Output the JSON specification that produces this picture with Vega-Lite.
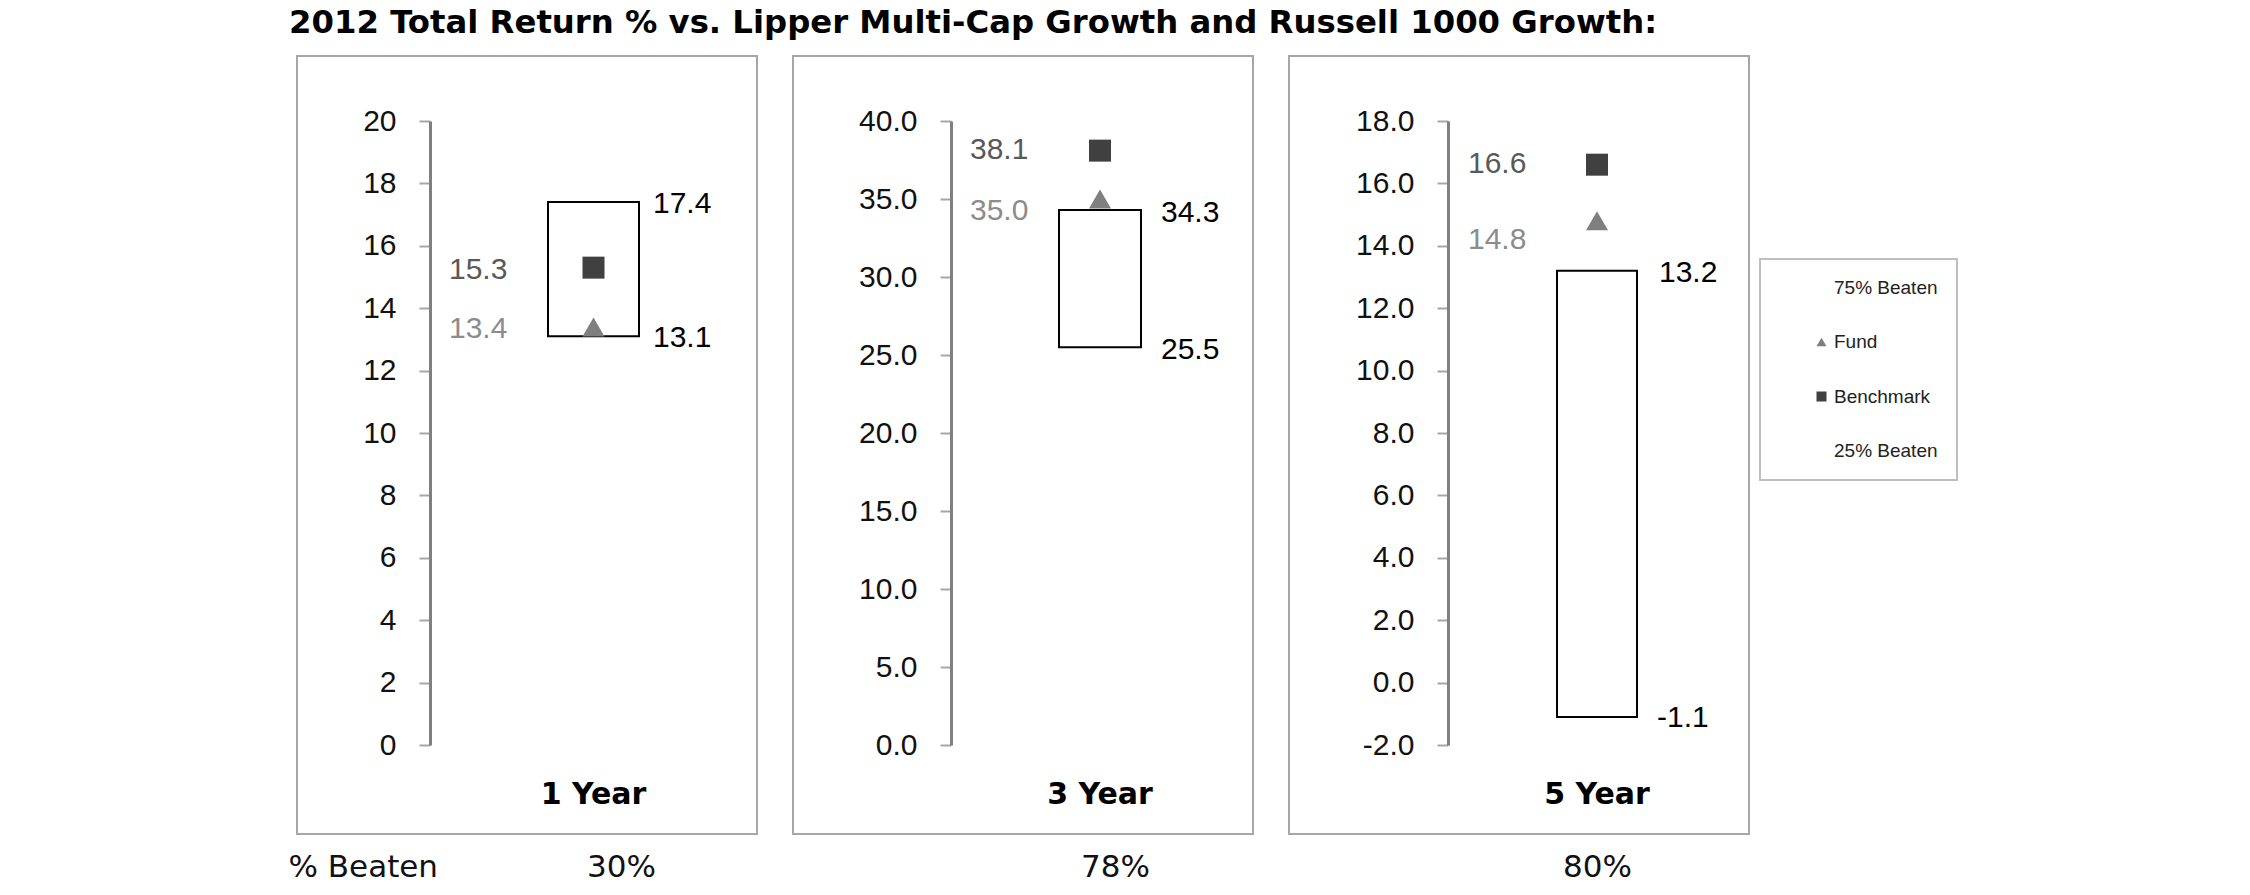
{
  "$schema": "https://vega.github.io/schema/vega-lite/v6.json",
  "background": "white",
  "padding": {"left": 287, "top": 6, "right": 10, "bottom": 5},
  "title": {
    "text": "2012 Total Return % vs. Lipper Multi-Cap Growth and Russell 1000 Growth:",
    "anchor": "start",
    "font": "DejaVu Sans",
    "fontSize": 32.3,
    "fontWeight": "bold",
    "color": "#000000",
    "offset": 16,
    "dx": 2
  },
  "data": {
    "values": [
      {"period": "1 Year", "p25": 13.1, "p75": 17.4, "fund": 13.4, "benchmark": 15.3, "beaten": "30%"},
      {"period": "3 Year", "p25": 25.5, "p75": 34.3, "fund": 35.0, "benchmark": 38.1, "beaten": "78%"},
      {"period": "5 Year", "p25": -1.1, "p75": 13.2, "fund": 14.8, "benchmark": 16.6, "beaten": "80%"}
    ]
  },
  "spacing": 34,
  "hconcat": [
    {
      "width": 460,
      "height": 778,
      "transform": [{"filter": "datum.period === '1 Year'"}],
      "encoding": {
        "x": {"field": "period", "type": "nominal", "scale": {"range": [251, 342], "padding": 0}, "axis": {"title": "30%", "titleX": 324}}
      },
      "layer": [
        {
          "mark": {"type": "bar", "fill": "white", "stroke": "black", "strokeWidth": 2},
          "encoding": {
            "y": {"field": "p75", "type": "quantitative", "title": "% Beaten",
                  "scale": {"domain": [0, 20], "range": [689, 65], "nice": false, "zero": false},
                  "axis": {"offset": -133, "tickCount": 10, "format": "d", "titleX": -142, "titleY": 820}},
            "y2": {"field": "p25"}
          }
        },
        {
          "mark": {"type": "point", "filled": true, "opacity": 1, "size": 484},
          "encoding": {
            "y": {"field": "benchmark", "type": "quantitative", "title": "% Beaten"},
            "shape": {"datum": "Benchmark", "type": "nominal", "scale": {"domain": ["75% Beaten", "Fund", "Benchmark", "25% Beaten"], "range": ["square", "triangle-up", "square", "square"]}},
            "color": {"datum": "Benchmark", "type": "nominal", "scale": {"domain": ["75% Beaten", "Fund", "Benchmark", "25% Beaten"], "range": ["transparent", "#7f7f7f", "#404040", "transparent"]}}
          }
        },
        {
          "mark": {"type": "point", "filled": true, "opacity": 1, "size": 484},
          "encoding": {
            "y": {"field": "fund", "type": "quantitative", "title": "% Beaten"},
            "shape": {"datum": "Fund", "type": "nominal", "scale": {"domain": ["75% Beaten", "Fund", "Benchmark", "25% Beaten"], "range": ["square", "triangle-up", "square", "square"]}},
            "color": {"datum": "Fund", "type": "nominal", "scale": {"domain": ["75% Beaten", "Fund", "Benchmark", "25% Beaten"], "range": ["transparent", "#7f7f7f", "#404040", "transparent"]}}
          }
        },
        {
          "mark": {"type": "text", "dx": 14, "dy": 2, "color": "#000000"},
          "encoding": {
            "x": {"field": "period", "type": "nominal", "bandPosition": 1, "title": "30%"},
            "y": {"field": "p75", "type": "quantitative", "title": "% Beaten"},
            "text": {"field": "p75", "type": "quantitative", "format": ".1f"}
          }
        },
        {
          "mark": {"type": "text", "dx": 14, "dy": 2, "color": "#000000"},
          "encoding": {
            "x": {"field": "period", "type": "nominal", "bandPosition": 1, "title": "30%"},
            "y": {"field": "p25", "type": "quantitative", "title": "% Beaten"},
            "text": {"field": "p25", "type": "quantitative", "format": ".1f"}
          }
        },
        {
          "mark": {"type": "text", "dx": -99, "dy": 2, "color": "#595959"},
          "encoding": {
            "x": {"field": "period", "type": "nominal", "bandPosition": 0, "title": "30%"},
            "y": {"field": "benchmark", "type": "quantitative", "title": "% Beaten"},
            "text": {"field": "benchmark", "type": "quantitative", "format": ".1f"}
          }
        },
        {
          "mark": {"type": "text", "dx": -99, "dy": 2, "color": "#8c8c8c"},
          "encoding": {
            "x": {"field": "period", "type": "nominal", "bandPosition": 0, "title": "30%"},
            "y": {"field": "fund", "type": "quantitative", "title": "% Beaten"},
            "text": {"field": "fund", "type": "quantitative", "format": ".1f"}
          }
        }
      ]
    },
    {
      "width": 460,
      "height": 778,
      "transform": [{"filter": "datum.period === '3 Year'"}],
      "encoding": {
        "x": {"field": "period", "type": "nominal", "scale": {"range": [266, 348], "padding": 0}, "axis": {"title": "78%", "titleX": 322}}
      },
      "layer": [
        {
          "mark": {"type": "bar", "fill": "white", "stroke": "black", "strokeWidth": 2},
          "encoding": {
            "y": {"field": "p75", "type": "quantitative", "title": null,
                  "scale": {"domain": [0, 40], "range": [689, 65], "nice": false, "zero": false},
                  "axis": {"offset": -158, "tickCount": 8, "format": ".1f"}},
            "y2": {"field": "p25"}
          }
        },
        {
          "mark": {"type": "point", "filled": true, "opacity": 1, "size": 484},
          "encoding": {
            "y": {"field": "benchmark", "type": "quantitative", "title": null},
            "shape": {"datum": "Benchmark", "type": "nominal"},
            "color": {"datum": "Benchmark", "type": "nominal"}
          }
        },
        {
          "mark": {"type": "point", "filled": true, "opacity": 1, "size": 484},
          "encoding": {
            "y": {"field": "fund", "type": "quantitative", "title": null},
            "shape": {"datum": "Fund", "type": "nominal"},
            "color": {"datum": "Fund", "type": "nominal"}
          }
        },
        {
          "mark": {"type": "text", "dx": 20, "dy": 3, "color": "#000000"},
          "encoding": {
            "x": {"field": "period", "type": "nominal", "bandPosition": 1, "title": "78%"},
            "y": {"field": "p75", "type": "quantitative", "title": null},
            "text": {"field": "p75", "type": "quantitative", "format": ".1f"}
          }
        },
        {
          "mark": {"type": "text", "dx": 20, "dy": 3, "color": "#000000"},
          "encoding": {
            "x": {"field": "period", "type": "nominal", "bandPosition": 1, "title": "78%"},
            "y": {"field": "p25", "type": "quantitative", "title": null},
            "text": {"field": "p25", "type": "quantitative", "format": ".1f"}
          }
        },
        {
          "mark": {"type": "text", "dx": -89, "dy": -1, "color": "#595959"},
          "encoding": {
            "x": {"field": "period", "type": "nominal", "bandPosition": 0, "title": "78%"},
            "y": {"field": "benchmark", "type": "quantitative", "title": null},
            "text": {"field": "benchmark", "type": "quantitative", "format": ".1f"}
          }
        },
        {
          "mark": {"type": "text", "dx": -89, "dy": 12, "color": "#8c8c8c"},
          "encoding": {
            "x": {"field": "period", "type": "nominal", "bandPosition": 0, "title": "78%"},
            "y": {"field": "fund", "type": "quantitative", "title": null},
            "text": {"field": "fund", "type": "quantitative", "format": ".1f"}
          }
        }
      ]
    },
    {
      "width": 460,
      "height": 778,
      "transform": [{"filter": "datum.period === '5 Year'"}],
      "encoding": {
        "x": {"field": "period", "type": "nominal", "scale": {"range": [268, 348], "padding": 0}, "axis": {"title": "80%", "titleX": 308}}
      },
      "layer": [
        {
          "mark": {"type": "bar", "fill": "white", "stroke": "black", "strokeWidth": 2},
          "encoding": {
            "y": {"field": "p75", "type": "quantitative", "title": null,
                  "scale": {"domain": [-2, 18], "range": [689, 65], "nice": false, "zero": false},
                  "axis": {"offset": -159, "tickCount": 10, "format": ".1f"}},
            "y2": {"field": "p25"}
          }
        },
        {
          "mark": {"type": "point", "filled": true, "opacity": 1, "size": 484},
          "encoding": {
            "y": {"field": "benchmark", "type": "quantitative", "title": null},
            "shape": {"datum": "Benchmark", "type": "nominal"},
            "color": {"datum": "Benchmark", "type": "nominal"}
          }
        },
        {
          "mark": {"type": "point", "filled": true, "opacity": 1, "size": 484},
          "encoding": {
            "y": {"field": "fund", "type": "quantitative", "title": null},
            "shape": {"datum": "Fund", "type": "nominal"},
            "color": {"datum": "Fund", "type": "nominal"}
          }
        },
        {
          "mark": {"type": "text", "dx": 22, "dy": 2, "color": "#000000"},
          "encoding": {
            "x": {"field": "period", "type": "nominal", "bandPosition": 1, "title": "80%"},
            "y": {"field": "p75", "type": "quantitative", "title": null},
            "text": {"field": "p75", "type": "quantitative", "format": ".1f"}
          }
        },
        {
          "mark": {"type": "text", "dx": 20, "dy": 1, "color": "#000000"},
          "encoding": {
            "x": {"field": "period", "type": "nominal", "bandPosition": 1, "title": "80%"},
            "y": {"field": "p25", "type": "quantitative", "title": null},
            "text": {"field": "p25", "type": "quantitative", "format": ".1f"}
          }
        },
        {
          "mark": {"type": "text", "dx": -89, "dy": -1, "color": "#595959"},
          "encoding": {
            "x": {"field": "period", "type": "nominal", "bandPosition": 0, "title": "80%"},
            "y": {"field": "benchmark", "type": "quantitative", "title": null},
            "text": {"field": "benchmark", "type": "quantitative", "format": ".1f"}
          }
        },
        {
          "mark": {"type": "text", "dx": -89, "dy": 19, "color": "#8c8c8c"},
          "encoding": {
            "x": {"field": "period", "type": "nominal", "bandPosition": 0, "title": "80%"},
            "y": {"field": "fund", "type": "quantitative", "title": null},
            "text": {"field": "fund", "type": "quantitative", "format": ".1f"}
          }
        }
      ]
    }
  ],
  "resolve": {
    "scale": {"x": "independent", "y": "independent", "color": "shared", "shape": "shared"},
    "axis": {"x": "independent", "y": "independent"},
    "legend": {"color": "shared", "shape": "shared"}
  },
  "config": {
    "locale": {"number": {"decimal": ".", "thousands": ",", "grouping": [3], "currency": ["$", ""], "minus": "-"}},
    "view": {"stroke": "#a6a6a6", "strokeWidth": 2},
    "text": {"font": "Liberation Sans", "fontSize": 30, "baseline": "middle", "align": "left"},
    "axisY": {
      "grid": false,
      "domainColor": "#7f7f7f", "domainWidth": 3,
      "tickColor": "#a6a6a6", "tickWidth": 2, "tickSize": 11,
      "labelPadding": 23, "labelFont": "Liberation Sans", "labelFontSize": 30, "labelColor": "#111111",
      "titleFont": "DejaVu Sans", "titleFontSize": 31, "titleFontWeight": "normal", "titleColor": "#111111",
      "titleAngle": 0, "titleAlign": "left", "titleBaseline": "alphabetic"
    },
    "axisX": {
      "grid": false, "domain": false, "ticks": false, "tickSize": 0, "offset": -31,
      "labelPadding": 0, "labelBaseline": "alphabetic", "labelAngle": 0,
      "labelFont": "DejaVu Sans", "labelFontWeight": "bold", "labelFontSize": 30, "labelColor": "#000000",
      "titleFont": "DejaVu Sans", "titleFontSize": 31, "titleFontWeight": "normal", "titleColor": "#111111",
      "titleBaseline": "alphabetic", "titleAlign": "center", "titleY": 73
    },
    "legend": {
      "orient": "none", "legendX": 1463, "legendY": 203,
      "title": null,
      "padding": 19, "symbolOffset": 33, "rowPadding": 34.5, "labelOffset": 3,
      "symbolSize": 100, "symbolStrokeWidth": 0,
      "labelFont": "Liberation Sans", "labelFontSize": 19, "labelColor": "#222222",
      "strokeColor": "#bfbfbf", "strokeWidth": 2, "fillColor": "white"
    }
  }
}
